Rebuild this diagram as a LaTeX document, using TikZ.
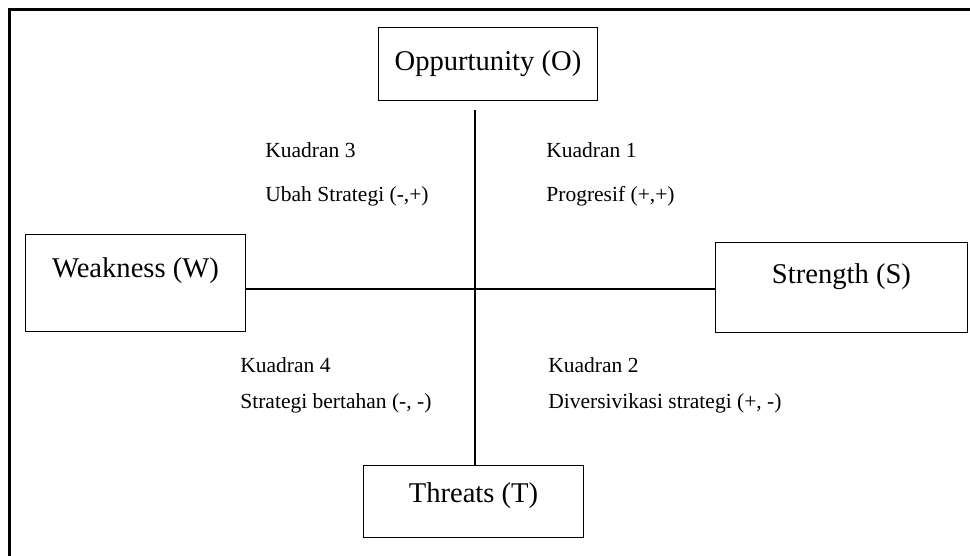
\documentclass[tikz,border=0pt]{standalone}
\usepackage{fontspec}
\setmainfont{Liberation Serif}
\begin{document}
\begin{tikzpicture}[x=0.5pt,y=0.5pt,
  box/.style={draw,line width=0.5pt,inner sep=0pt,anchor=north west,font=\fontsize{14.3}{17}\selectfont},
  quad/.style={anchor=base west,inner sep=0pt,align=left,font=\fontsize{10.75}{22}\selectfont}]
\useasboundingbox (0,0) rectangle (970,556);
\draw[line width=1.5pt] (9,0) -- (9,546) -- (972,546);
% the four boxes
\node[box,minimum width=109.5pt,text height=21.5pt,text depth=15pt] (opp) at (378,529) {Oppurtunity (O)};
\node[box,minimum width=110pt,text height=21.5pt,text depth=27pt] (weak) at (25,322) {Weakness (W)};
\node[box,minimum width=126pt,text height=20.5pt,text depth=24.5pt] (str) at (715,314) {Strength (S)};
\node[box,minimum width=110pt,text height=18.5pt,text depth=17.5pt] (thr) at (363,91) {Threats (T)};
% axes
\coordinate (mid) at (475,267);
\coordinate (top) at (475,446);
\draw[line width=1pt] (weak.east |- mid) -- (str.west |- mid);
\draw[line width=1pt] (top) -- (mid |- thr.north);
% quadrants (base = second line)
\node[quad] (q3) at (265,354) {Kuadran 3\\Ubah Strategi (-,+)};
\node[quad] (q1) at (546,354) {Kuadran 1\\Progresif (+,+)};
\node[quad,font=\fontsize{10.75}{18}\selectfont] (q4) at (240,147) {Kuadran 4\\Strategi bertahan (-, -)};
\node[quad,font=\fontsize{10.75}{18}\selectfont] (q2) at (548,147) {Kuadran 2\\Diversivikasi strategi (+, -)};
\end{tikzpicture}
\end{document}
